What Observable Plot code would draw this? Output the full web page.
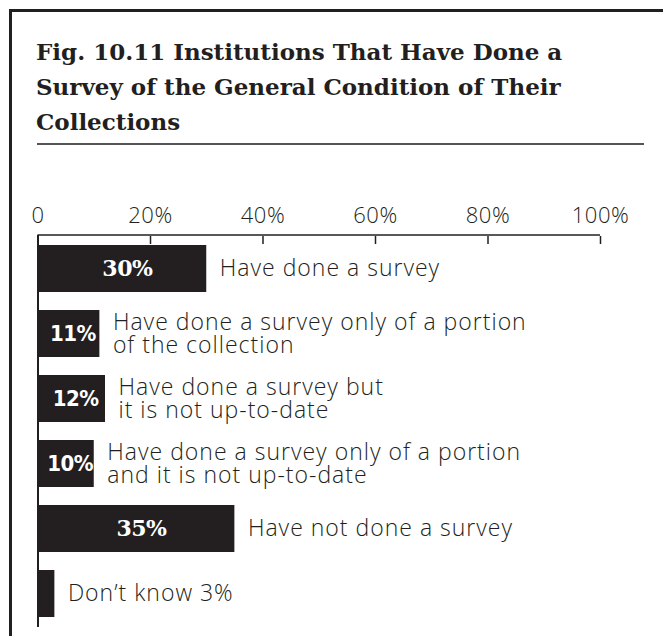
<!DOCTYPE html>
<html>
<head>
<meta charset="utf-8">
<script src="https://cdn.jsdelivr.net/npm/d3@7"></script>
<script src="https://cdn.jsdelivr.net/npm/@observablehq/plot@0.6"></script>
<style>
  html, body { margin: 0; padding: 0; width: 663px; height: 636px; overflow: hidden; background: #fff; }
  #frame { position: absolute; left: 9px; top: 9px; width: 720px; height: 720px; border: 3px solid #231f20; box-sizing: border-box; }
  #title { position: absolute; left: 36px; top: 34px; font-family: "DejaVu Serif", serif; font-weight: bold; font-size: 23px; line-height: 35px; color: #231f20; white-space: nowrap; }
  #rule { position: absolute; left: 37px; top: 143px; width: 607px; height: 2px; background: #555; }
  #chart { position: absolute; left: 0; top: 150px; }
  #chart svg text { letter-spacing: 0.5px; }
  #chart svg g[font-size="23"] text { letter-spacing: 1px; }
  #chart svg g[font-weight="bold"] text { letter-spacing: -0.5px; }
</style>
</head>
<body>
<div id="frame"></div>
<div id="title">Fig. 10.11 Institutions That Have Done a<br>Survey of the General Condition of Their<br>Collections</div>
<div id="rule"></div>
<div id="chart"></div>
<script>
const categories = [
  "Have done a survey",
  "Have done a survey only of a portion\nof the collection",
  "Have done a survey but\nit is not up-to-date",
  "Have done a survey only of a portion\nand it is not up-to-date",
  "Have not done a survey",
  "Don’t know 3%"
];
const values = [30, 11, 12, 10, 35, 3];
const valueLabels = ["30%", "11%", "12%", "10%", "35%", ""];
const tickValues = [0, 20, 40, 60, 80, 100];
const tickLabels = ["0", "20%", "40%", "60%", "80%", "100%"];

const ink = "#231f20";
const rows = categories.map((c, i) => ({category: c, value: values[i], inner: valueLabels[i]}));

const axisLine = (index, scales, values, dims) => {
  const line = d3.create("svg:line")
    .attr("x1", scales.x(tickValues[0]))
    .attr("x2", scales.x(tickValues[tickValues.length - 1]))
    .attr("y1", dims.marginTop)
    .attr("y2", dims.marginTop)
    .attr("stroke", ink)
    .attr("stroke-width", 1.5);
  return line.node();
};

const chart = Plot.plot({
  width: 663,
  height: 486,
  marginLeft: 37.5,
  marginRight: 63,
  marginTop: 85,
  marginBottom: 9,
  style: {fontFamily: "'Open Sans', sans-serif", fontWeight: 300, fontSize: "24px", color: ink, background: "transparent", overflow: "visible"},
  x: {domain: [0, 100], axis: null, label: null},
  y: {domain: categories, paddingInner: 0.27, paddingOuter: 0.138, axis: null},
  marks: [
    Plot.barX(rows, {x: "value", y: "category", fill: ink}),
    Plot.ruleX([0], {stroke: ink, strokeWidth: 2}),
    axisLine,
    Plot.axisX({anchor: "top", ticks: tickValues, tickSize: -8, text: null, label: null, stroke: ink, strokeWidth: 1.5}),
    Plot.axisX({anchor: "top", ticks: tickValues, tickSize: 0, tickPadding: 13, fontSize: 22, fill: ink, label: null,
      tickFormat: d => tickLabels[tickValues.indexOf(d)]}),
    Plot.text(rows, {x: "value", y: "category", text: "category", textAnchor: "start", dx: 13, lineHeight: 1.0, fill: ink, fontSize: 23}),
    Plot.text(rows.filter(d => d.inner && d.value > 20), {x: d => d.value / 2, y: "category", text: "inner", dx: 5,
      fill: "white", fontFamily: "'DejaVu Serif', serif", fontWeight: "bold", fontSize: 22}),
    Plot.text(rows.filter(d => d.inner && d.value <= 20), {x: d => d.value / 2, y: "category", text: "inner", dx: 4,
      fill: "white", fontFamily: "'DejaVu Sans Condensed', 'DejaVu Sans', sans-serif", fontWeight: "bold", fontSize: 22})
  ]
});
document.getElementById("chart").appendChild(chart);
</script>
</body>
</html>
